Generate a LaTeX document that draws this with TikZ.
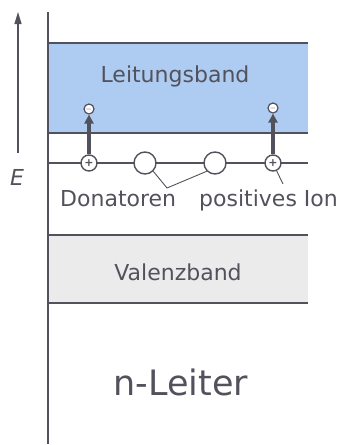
\documentclass[tikz,border=0pt]{standalone}
\usepackage{fontspec}
\setmainfont{DejaVu Sans}
\usetikzlibrary{arrows.meta}

\definecolor{bandblau}{RGB}{174,203,242}
\definecolor{bandgrau}{RGB}{235,235,236}
\definecolor{strich}{RGB}{82,82,92}

\tikzset{
  beschriftung/.style={font=\fontsize{22}{24}\selectfont, text=strich, inner sep=0pt},
  bandkante/.style={strich, line width=2pt},
  donator/.style={circle, draw=strich, fill=white, line width=1.4pt, minimum size=16pt, inner sep=0pt, font=\fontsize{11}{11}\selectfont\bfseries, text=strich},
  loch/.style={circle, draw=strich, fill=white, line width=1.4pt, minimum size=22pt, inner sep=0pt},
  elektron/.style={circle, draw=strich, fill=white, line width=1.2pt, minimum size=10pt, inner sep=0pt, font=\fontsize{8}{8}\selectfont\bfseries, text=strich},
  sprung/.style={strich, line width=3.5pt, -{Triangle[length=9pt,width=9pt]}},
  hinweis/.style={strich, line width=0.9pt},
}

\begin{document}
\begin{tikzpicture}[x=1pt, y=-1pt]
    \useasboundingbox (0,0) rectangle (338,445);

    % Baender
    \fill[bandblau] (48,43) rectangle (308,133);
    \fill[bandgrau] (48,235) rectangle (308,303);
    \draw[bandkante] (48,43) -- (308,43);
    \draw[bandkante] (48,133) -- (308,133);
    \draw[bandkante] (48,235) -- (308,235);
    \draw[bandkante] (48,303) -- (308,303);

    % Energieachse
    \draw[strich, line width=2pt] (48,12) -- (48,444);
    \coordinate (e0) at (18,153);
    \coordinate (e1) at (18,12);
    \draw[strich, line width=1.2pt, -{Triangle[length=12pt,width=7pt]}] (e0) -- (e1);
    \node[beschriftung, anchor=base, font=\fontsize{22}{24}\selectfont\itshape] (E) at (17,185) {E};

    % Donatorniveau
    \draw[strich, line width=1.6pt] (48,163) -- (308,163);
    \node[donator] (d1) at (89,163) {+};
    \node[loch] (l1) at (145,163) {};
    \node[loch] (l2) at (215,163) {};
    \node[donator] (d2) at (273,163) {+};

    % Elektronen im Leitungsband
    \node[elektron] (n1) at (89,109) {$-$};
    \node[elektron] (n2) at (273,108) {$-$};
    \draw[sprung] (d1) -- (n1);
    \draw[sprung] (d2) -- (n2);

    % Texte
    \node[beschriftung, anchor=base] (lb) at (175,82) {Leitungsband};
    \node[beschriftung, anchor=base] (vb) at (178,280) {Valenzband};
    \node[beschriftung, anchor=base, font=\fontsize{35}{38}\selectfont] (nl) at (181,395) {n-Leiter};
    \node[beschriftung, anchor=base west] (don) at (60,206) {Donatoren};
    \node[beschriftung, anchor=base west] (ion) at (199,206) {positives Ion};

    % Hinweislinien
    \coordinate (knick) at (167,188);
    \draw[hinweis] (l1.-45) -- (knick) -- (l2.-135);
    \coordinate (ionende) at (283,184);
    \draw[hinweis] (d2.-65) -- (ionende);
\end{tikzpicture}
\end{document}
